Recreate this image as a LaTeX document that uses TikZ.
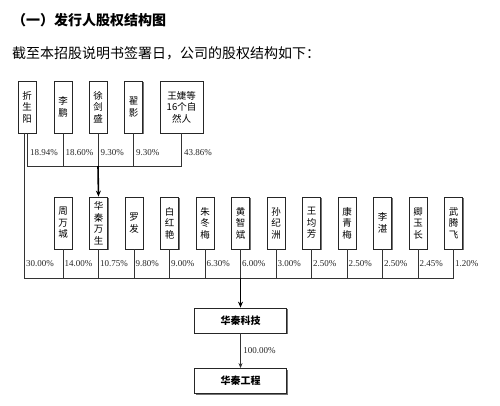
\documentclass[tikz,border=0pt]{standalone}
\usepackage{fontspec}
\setmainfont{Liberation Serif}
\newfontfamily\cjk{Noto Sans CJK SC}
\usetikzlibrary{shadows,arrows.meta}
\tikzset{
  pbox/.style={draw=black!85, line width=0.8pt, fill=white, minimum width=18pt, minimum height=52pt,
    inner sep=0pt, align=center, font=\cjk\fontsize{9.5}{11.5}\selectfont,
    drop shadow={shadow xshift=1.2pt, shadow yshift=-1.2pt, fill=black!55, opacity=1}},
  cbox/.style={pbox, minimum width=92pt, minimum height=25pt, font=\cjk\bfseries\fontsize{10}{12}\selectfont},
  link/.style={draw=black!80, line width=0.8pt},
  thick arrow/.style={draw=black, line width=1.6pt, -{Stealth[length=6pt,width=5pt]}},
  thin arrow/.style={draw=black!80, line width=0.8pt, -{Stealth[length=5pt,width=4pt]}},
  pct/.style={anchor=west, inner sep=0pt, font=\fontsize{9}{10}\selectfont, text=black!85},
}
\begin{document}
\begin{tikzpicture}[x=1pt,y=-1pt]
\useasboundingbox (0,0) rectangle (500,406);
% title
\node[anchor=west, inner sep=0pt, font=\cjk\bfseries\fontsize{14}{16}\selectfont] (title) at (12,20) {（一）发行人股权结构图};
\node[anchor=west, inner sep=0pt, font=\cjk\fontsize{14}{16}\selectfont] (sub) at (12,53) {截至本招股说明书签署日，公司的股权结构如下：};
% top row
\node[pbox] (t1) at (27,107) {折\\生\\阳};
\node[pbox] (t2) at (63,107) {李\\鹏};
\node[pbox] (t3) at (98,107) {徐\\剑\\盛};
\node[pbox] (t4) at (133.5,107) {翟\\影};
\node[pbox, minimum width=43pt] (t5) at (181.5,107) {王婕等\\16个自\\然人};
% middle row
\foreach \n/\t [count=\i from 0] in {m1/{周\\万\\城}, m2/{华\\秦\\万\\生}, m3/{罗\\发}, m4/{白\\红\\艳}, m5/{朱\\冬\\梅}, m6/{黄\\智\\斌}, m7/{孙\\纪\\洲}, m8/{王\\均\\芳}, m9/{康\\青\\梅}, m10/{李\\湛}, m11/{卿\\玉\\长}, m12/{武\\腾\\飞}}
  \node[pbox] (\n) at (63+35.5*\i,223) {\t};
% company boxes
\node[cbox] (hqkj) at (240.5,320.5) {华秦科技};
\node[cbox] (hqgc) at (240.5,381) {华秦工程};
% bus coordinates
\coordinate (busTop) at (0,166);
\coordinate (busBot) at (0,278);
\coordinate (tL) at (27,166);
\coordinate (tR) at (181.5,166);
\coordinate (bL) at (24,278);
\coordinate (bR) at (453.5,278);
\coordinate (t1b) at (24,133);
% top connectors
\foreach \n in {t1,t2,t3,t4,t5}
  \draw[link] (\n.south) -- (\n.south |- busTop);
\draw[link] (tL) -- (tR);
\draw[thick arrow] (t3.south |- busTop) -- (m2.north);
% labels top
\node[pct] (p1) at (30,153) {18.94\%};
\node[pct] (p2) at (65.5,153) {18.60\%};
\node[pct] (p3) at (100.5,153) {9.30\%};
\node[pct] (p4) at (136,153) {9.30\%};
\node[pct] (p5) at (184,153) {43.86\%};
% bottom connectors
\draw[link] (t1b) -- (bL);
\foreach \n in {m1,m2,m3,m4,m5,m6,m7,m8,m9,m10,m11,m12}
  \draw[link] (\n.south) -- (\n.south |- busBot);
\draw[link] (bL) -- (bR);
\draw[thick arrow] (hqkj.north |- busBot) -- (hqkj.north);
% labels bottom
\node[pct] (q0) at (26,264) {30.00\%};
\foreach \n/\v in {m1/14.00, m2/10.75, m3/9.80, m4/9.00, m5/6.30, m6/6.00, m7/3.00, m8/2.50, m9/2.50, m10/2.50, m11/2.45, m12/1.20}
  \node[pct] (q\n) at ([xshift=1.5pt] \n.south |- 0,264) {\v\%};
% last arrow
\draw[thin arrow] (hqkj.south) -- node[pct, pos=0.5, xshift=2.5pt] (p100) {100.00\%} (hqgc.north);
\end{tikzpicture}
\end{document}
